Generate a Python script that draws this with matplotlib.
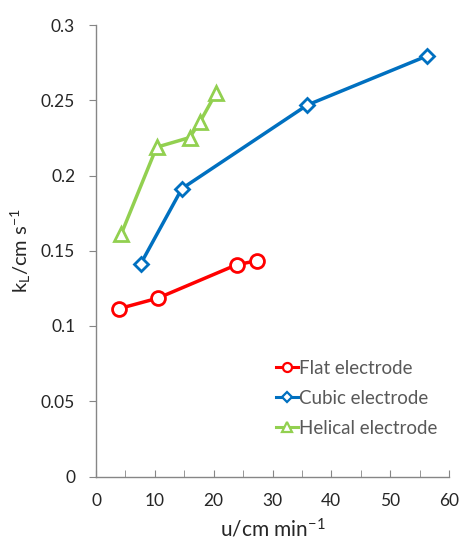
import matplotlib
matplotlib.use("Agg")
import matplotlib.pyplot as plt
from matplotlib.ticker import MultipleLocator, FuncFormatter

flat_x = [3.9, 10.5, 23.9, 27.4]
flat_y = [0.1115, 0.1185, 0.1407, 0.1434]
cubic_x = [7.6, 14.6, 35.9, 56.3]
cubic_y = [0.1413, 0.1913, 0.2468, 0.2795]
helical_x = [4.3, 10.3, 15.9, 17.7, 20.4]
helical_y = [0.1612, 0.2188, 0.2252, 0.2358, 0.2548]
labels = ["Flat electrode", "Cubic electrode", "Helical electrode"]

plt.rcParams['font.family'] = ['Lato', 'DejaVu Sans']
plt.rcParams['mathtext.fontset'] = 'custom'
plt.rcParams['mathtext.rm'] = 'Lato'
plt.rcParams['mathtext.it'] = 'Lato'

fig = plt.figure(figsize=(4.62, 5.44), dpi=100)
ax = fig.add_axes([96/462, 1-476.5/544, (449-96)/462, (476.5-25)/544])

ax.plot(flat_x, flat_y, color='#FF0000', lw=2.5, marker='o', ms=10,
        mfc='white', mec='#FF0000', mew=2, label=labels[0])
ax.plot(cubic_x, cubic_y, color='#0070C0', lw=2.5, marker='D', ms=7.5,
        mfc='white', mec='#0070C0', mew=2, label=labels[1])
ax.plot(helical_x, helical_y, color='#92D050', lw=2.5, marker='^', ms=10,
        mfc='white', mec='#92D050', mew=2, label=labels[2])

ax.set_xlim(0, 60)
ax.set_ylim(0, 0.3)
ax.xaxis.set_major_locator(MultipleLocator(10))
ax.xaxis.set_minor_locator(MultipleLocator(5))
ax.yaxis.set_major_locator(MultipleLocator(0.05))
ax.yaxis.set_major_formatter(FuncFormatter(lambda v, p: ('%g' % round(v, 3))))

for s in ['top', 'right']:
    ax.spines[s].set_visible(False)
for s in ['left', 'bottom']:
    ax.spines[s].set_color('#868686')
    ax.spines[s].set_linewidth(1.0)

ax.tick_params(axis='x', which='both', direction='in', length=5, color='#868686',
               labelsize=12.5, labelcolor='#262626', pad=12)
ax.tick_params(axis='y', direction='out', length=5, color='#868686',
               labelsize=12.5, labelcolor='#262626', pad=10)

ax.set_xlabel(r'u/cm min$^{-1}$', fontsize=15, color='#262626', labelpad=6)
ax.set_ylabel(r'k$_\mathrm{L}$/cm s$^{-1}$', fontsize=14.5, color='#262626', labelpad=6)

leg = ax.legend(loc='upper left', bbox_to_anchor=((276-96)/353, (476.5-360)/451.5),
                frameon=False, fontsize=13.5, handlelength=1.15, handletextpad=0.1,
                labelspacing=0.68, borderpad=0, borderaxespad=0, markerscale=0.65)
for t in leg.get_texts():
    t.set_color('#595959')
for h in leg.legend_handles:
    h.set_markeredgewidth(1.6)
    h.set_linewidth(2.2)

fig.savefig('out.png', dpi=100)
